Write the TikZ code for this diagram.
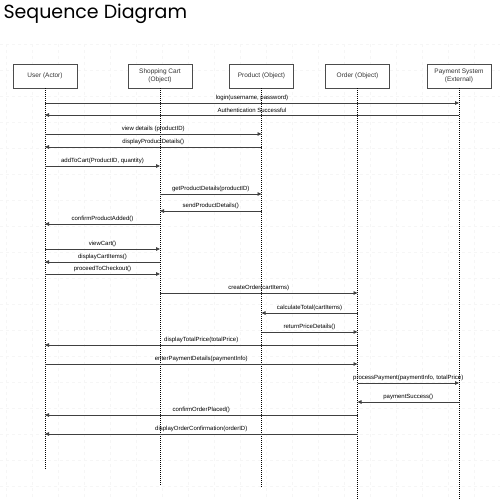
\documentclass[tikz,border=0pt]{standalone}
\usepackage{fontspec}
\setmainfont{Liberation Sans}
\newfontfamily\titlefont{Poppins}
\usetikzlibrary{arrows.meta}

\tikzset{
  actor/.style={draw=gray!60!black, fill=white, line width=0.7pt,
    minimum width=64pt, minimum height=24pt, inner sep=1pt, align=center,
    font=\fontsize{6.5}{7.8}\selectfont, text=black!80},
  lifeline/.style={black, line width=0.6pt, dash pattern=on 1pt off 1pt},
  msg/.style={draw=black!75, line width=0.8pt, -{Triangle[length=4pt,width=3.5pt]}},
  msglabel/.style={font=\fontsize{6}{6.5}\selectfont, text=black, inner sep=1pt, above=1pt},
  gridline/.style={gray!7, dashed, line width=0.3pt}
}

\begin{document}
\begin{tikzpicture}[x=1pt, y=-1pt]

    \useasboundingbox (0,0) rectangle (500,500);

    % Draw the grid
    \foreach \gx in {6,32,...,500} \draw[gridline] (\gx,44) -- (\gx,500);
    \foreach \gy in {44,70,...,500} \draw[gridline] (0,\gy) -- (500,\gy);

    \node[anchor=base west, font=\titlefont\fontsize{19}{22}\selectfont] (title) at (0,19) {Sequence Diagram};

    % Participants
    \node[actor] (user) at (45,76) {User (Actor)};
    \node[actor] (cart) at (160,76) {Shopping Cart\\(Object)};
    \node[actor] (product) at (261.5,76) {Product (Object)};
    \node[actor] (order) at (357.5,76) {Order (Object)};
    \node[actor] (payment) at (459,76) {Payment System\\(External)};

    % Lifelines
    \foreach \n/\e in {user/470, cart/485, product/487, order/500, payment/500} {
        \coordinate (\n-end) at (\n |- 0,\e);
        \draw[lifeline] (\n.south) -- (\n-end);
    }

    % Messages
    \foreach \y/\a/\b/\t in {
        103/user/payment/{login(username, password)},
        115/payment/user/{Authentication Successful},
        134/user/product/{view details (productID)},
        147/product/user/{displayProductDetails()},
        166/user/cart/{addToCart(ProductID, quantity)},
        194/cart/product/{getProductDetails(productID)},
        211/product/cart/{sendProductDetails()},
        224/cart/user/{confirmProductAdded()},
        249/user/cart/{viewCart()},
        262/cart/user/{displayCartItems()},
        274/user/cart/{proceedToCheckout()},
        293/cart/order/{createOrder(cartItems)},
        313/order/product/{calculateTotal(cartItems)},
        332/product/order/{returnPriceDetails()},
        345/order/user/{displayTotalPrice(totalPrice)},
        364/user/order/{enterPaymentDetails(paymentInfo)},
        383/order/payment/{processPayment(paymentInfo, totalPrice)},
        402/payment/order/{paymentSuccess()},
        415/order/user/{confirmOrderPlaced()},
        434/order/user/{displayOrderConfirmation(orderID)}} {
        \coordinate (m\y) at (0,\y);
        \draw[msg] (\a |- m\y) -- node[msglabel] {\t} (\b |- m\y);
    }

\end{tikzpicture}
\end{document}
